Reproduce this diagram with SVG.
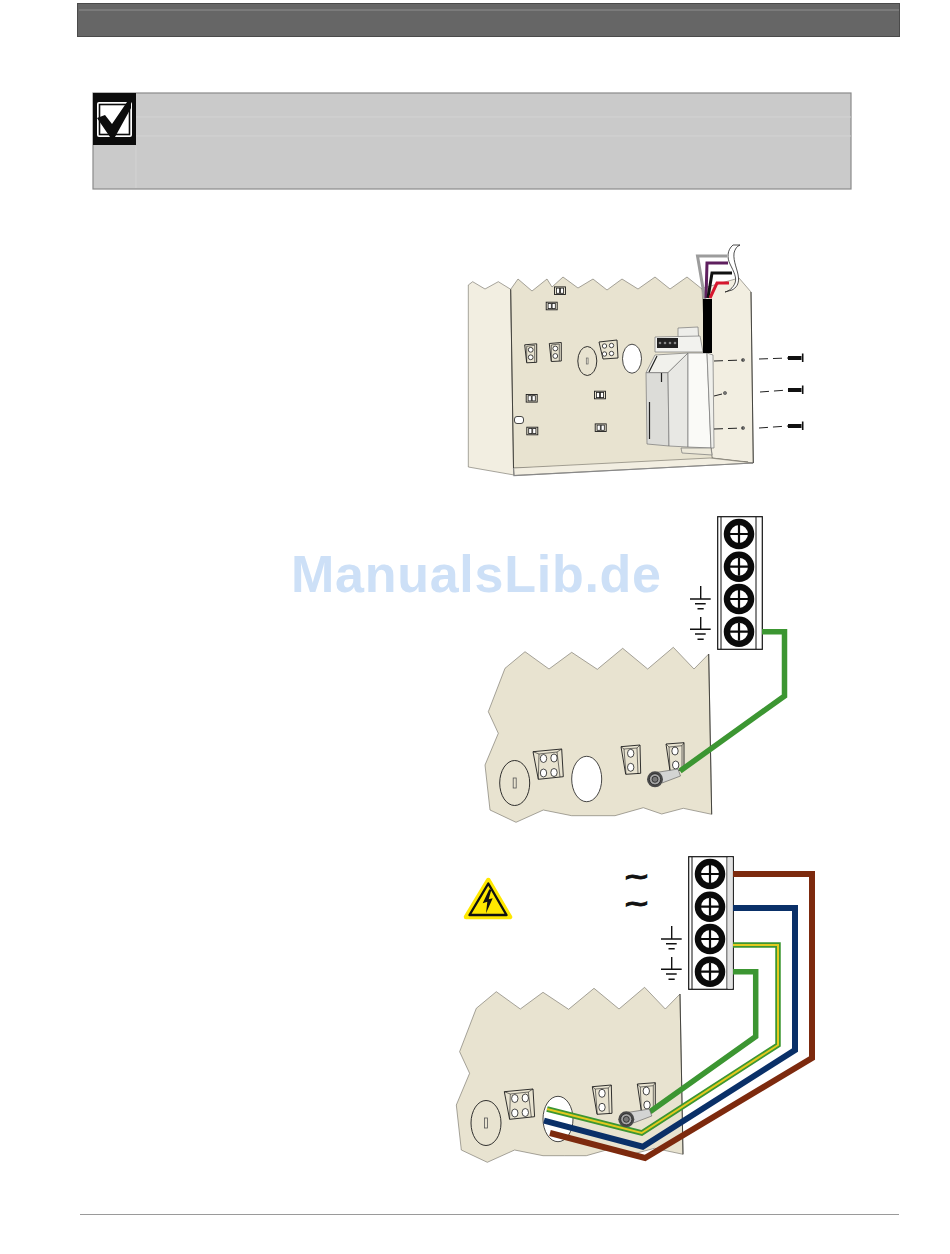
<svg xmlns="http://www.w3.org/2000/svg" width="950" height="1254" viewBox="0 0 950 1254">
<style>
.panel{fill:#e8e3d0;stroke:#6f6c62;stroke-width:.6;stroke-linejoin:round}
.side{fill:#f2eee1;stroke:#6f6c62;stroke-width:.6;stroke-linejoin:round}
.ln{fill:none;stroke:#1c1c1c;stroke-width:.9}
.th{fill:none;stroke:#1c1c1c;stroke-width:.6}
.edge{fill:none;stroke:#3a3a36;stroke-width:.9}
.clip{fill:#e8e3d0;stroke:#1c1c1c;stroke-width:.9}
.hole{fill:#fff;stroke:#1c1c1c;stroke-width:.8}
.w{fill:none;stroke-linejoin:miter}
.dash{fill:none;stroke:#222;stroke-width:1;stroke-dasharray:9 5}
.gnd{fill:none;stroke:#111;stroke-width:1.4}
.green{stroke:#3c9632;stroke-width:5.5}
.blue{stroke:#0a3068;stroke-width:6}
.brown{stroke:#7d2a0e;stroke-width:6}
.yellow{stroke:#e3c91e;stroke-width:2}
.wm{font-family:"Liberation Sans",Arial,sans-serif;font-size:52px;font-weight:700;fill:#cde0f7}
.tilde{font-family:"DejaVu Sans",sans-serif;font-size:23px;font-weight:700;fill:#111;stroke:#111;stroke-width:.9}
</style>
<defs>
<g id="screw">
<circle r="12.1" fill="#fff" stroke="#0a0a0a" stroke-width="6.3"/>
<path d="M-9 0H9M0 -9V9" stroke="#0a0a0a" stroke-width="2.2" fill="none"/>
</g>
<g id="block">
<rect x="717.7" y="516.7" width="44.6" height="132.6" fill="#fff" stroke="#111" stroke-width="1.2"/>
<path d="M721 517V649M756 517V649" stroke="#111" stroke-width="1" fill="none"/>
<use href="#screw" x="739" y="534"/>
<use href="#screw" x="739" y="566.7"/>
<use href="#screw" x="739" y="599"/>
<use href="#screw" x="739" y="631.7"/>
<path class="gnd" d="M700.7 586V599M690 599H710.7M695 603.7H705.7M697.5 608.7H703.7"/>
<path class="gnd" d="M700.7 617V629.3M690 629.3H710.7M695 634H705.7M697.5 639.3H703.7"/>
</g>
<g id="wall">
<polygon class="panel" points="505,668.3 525,651.7 549,669 571.7,652.3 597.3,669.3 622.7,648.3 647.7,669 673.3,647.3 694,669 708.7,654 711.7,814.3 683.3,808.3 661.7,814 643.3,807.7 615,815.7 593,815.7 571.7,815.7 543.3,810 516,822.3 490,810 485,765 498.3,733.3 488.3,711.7"/>
<path class="edge" d="M708.7 654L711.7 814.3"/>
<g class="clip">
<polygon points="533,751.7 561.7,749 563.3,776.7 538.3,779.3"/>
<polygon points="621,746.7 640,745 640.7,773.3 625.7,774.3"/>
<polygon points="666,744 684,742.7 684,770 670,771"/>
</g>
<path class="th" d="M533 751.7L539 754L557 752L561.7 749M539 754L538.3 779.3M557 752L560 777M621 746.7L624 749L637 748L640 745M624 749L626 774M637 748L638 774M666 744L669 747L682 745.7L684 742.7M669 747L670 771M682 745.7V770"/>
<g class="hole">
<ellipse cx="543.5" cy="758.5" rx="3.2" ry="4"/><ellipse cx="554" cy="758" rx="3.2" ry="4"/>
<ellipse cx="543.5" cy="773" rx="3.2" ry="4"/><ellipse cx="554" cy="772.5" rx="3.2" ry="4"/>
<ellipse cx="630.7" cy="753.3" rx="3.2" ry="4"/><ellipse cx="630.7" cy="767.3" rx="3.2" ry="4"/>
<ellipse cx="675" cy="751" rx="3.2" ry="4"/><ellipse cx="675.7" cy="765" rx="3.2" ry="4"/>
<ellipse cx="586.7" cy="779" rx="15" ry="22.7"/>
</g>
<ellipse cx="514.7" cy="783" rx="15" ry="22.5" class="ln"/>
<rect x="513.2" y="778" width="3" height="10" fill="none" stroke="#555" stroke-width=".8"/>
</g>
<g id="lug">
<polygon points="678,769 680.5,776 662,783 653,773" fill="#d3d4d3" stroke="#555" stroke-width=".6"/>
<circle cx="655" cy="779.3" r="8" fill="#4a4a4a"/>
<circle cx="655" cy="779.3" r="5.6" fill="#a5a5a5" stroke="#222" stroke-width=".8"/>
<circle cx="655" cy="779.3" r="3" fill="#777" stroke="#222" stroke-width=".8"/>
</g>
<g id="clipS">
<rect x="-5.5" y="-3.8" width="11" height="7.6" class="clip"/>
<rect x="-3.6" y="-2.6" width="3.2" height="5.2" class="hole"/>
<rect x=".4" y="-2.6" width="3.2" height="5.2" class="hole"/>
</g>
<g id="clipT">
<polygon points="-6,-8.5 6,-9.5 6,9 -4,9.5" class="clip"/>
<path class="th" d="M-4 -7L4 -8V9M-4 -7V9"/>
<circle cx="0" cy="-3.5" r="2.4" class="hole"/>
<circle cx="0" cy="4" r="2.4" class="hole"/>
</g>
<g id="bolt">
<rect x="0" y="-2" width="13.5" height="4" fill="#111"/>
<path d="M14.7 -4.5V4" stroke="#111" stroke-width="1.6"/>
</g>
</defs>

<rect width="950" height="1254" fill="#fff"/>

<g id="header">
<rect x="77.5" y="3.5" width="822" height="33" fill="#666" stroke="#4a4a4a" stroke-width="1"/>
<path d="M79 10H899" stroke="#8f8f8f" stroke-width="1"/>
</g>

<g id="note">
<rect x="93" y="93" width="758" height="96" fill="#cacaca" stroke="#8a8a8a" stroke-width="1.2"/>
<path d="M136 117H851M136 136H851M136 146V188" stroke="#d6d6d6" stroke-width=".8" fill="none"/>
<rect x="93" y="93" width="43" height="52" fill="#0c0c0c"/>
<rect x="97" y="102" width="35" height="35" rx="2" fill="#fff"/>
<rect x="99.5" y="104.5" width="30" height="30" fill="none" stroke="#0c0c0c" stroke-width="1.6"/>
<polygon points="97,118 105,115 112,124 127,102 131,102 131,108 115,137 110,137" fill="#0c0c0c"/>
</g>

<text class="wm" x="291" y="592" textLength="370" lengthAdjust="spacing">ManualsLib.de</text>

<g id="cabinet">
<polygon class="side" points="468.3,285 472.7,281.7 485,289 498.3,281.7 510.7,289.3 514,475 468.3,467"/>
<polygon class="side" points="700,289 739,278 751,292 753.3,463 712,458"/>
<polygon class="panel" points="510.7,289.3 518,279 532,291 547,279 552,287 563,277 578,288 593,279 607,290 622,279 638,289 655,277 670,289 687,277 702,289 712,458 748,462 513.5,468"/>
<polygon class="side" points="513.5,468 710,458 753,463 514,475.5"/>
<path d="M513.5 468L514 475.5L753 463" fill="none" stroke="#888" stroke-width="1.2"/>
<path class="edge" d="M510.7 289.3L513.5 468M751 292L753.3 463"/>
<use href="#clipS" x="560" y="290.7"/>
<use href="#clipS" x="551.7" y="306"/>
<use href="#clipS" x="531.7" y="398.3"/>
<use href="#clipS" x="532.3" y="431"/>
<use href="#clipS" x="600" y="395"/>
<use href="#clipS" x="600.7" y="427.7"/>
<use href="#clipT" x="530.7" y="353.3"/>
<use href="#clipT" x="555.3" y="352"/>
<polygon class="clip" points="599,342 617,340 618,358 603,359"/>
<g class="hole">
<circle cx="604.5" cy="346" r="2.2"/><circle cx="611.5" cy="345.5" r="2.2"/>
<circle cx="604.5" cy="354" r="2.2"/><circle cx="611.5" cy="353.5" r="2.2"/>
<ellipse cx="632" cy="358.7" rx="9.5" ry="14.5"/>
<rect x="514.5" y="416.5" width="9" height="7" rx="2.5"/>
</g>
<ellipse class="ln" cx="587.3" cy="361" rx="9.5" ry="14.5"/>
<rect x="586.3" y="358" width="1.8" height="6" fill="none" stroke="#666" stroke-width=".7"/>
</g>

<g id="module">
<polygon points="678,328 698,327 699,345 678,345" fill="#eeeeea" stroke="#777" stroke-width=".7"/>
<polygon points="655,337 700,336 703,352 655,352" fill="#f2f2ee" stroke="#777" stroke-width=".7"/>
<rect x="657" y="338" width="21" height="10" fill="#222"/>
<g fill="#888"><circle cx="660" cy="343" r="1.3"/><circle cx="665" cy="343" r="1.3"/><circle cx="670" cy="343" r="1.3"/><circle cx="675" cy="343" r="1.3"/></g>
<polygon points="646,372.7 655,355 688,353 668,372.7" fill="#f1f1ec" stroke="#777" stroke-width=".7"/>
<polygon points="646,372.7 668,372.7 669,446 647,444" fill="#dcdcd8" stroke="#777" stroke-width=".7"/>
<polygon points="668,372.7 688,353 688,447 669,446" fill="#e8e8e4" stroke="#777" stroke-width=".7"/>
<polygon points="688,353 707,353 711,448 688,447" fill="#fafaf7" stroke="#777" stroke-width=".7"/>
<polygon points="707,353 713,355 714,448 711,448" fill="#f0f0ec" stroke="#777" stroke-width=".7"/>
<polygon points="681,448 711,448 712,455 682,453" fill="#ece8d9" stroke="#777" stroke-width=".7"/>
<path d="M649 372L657 356M661.5 373V382M649.5 402V439" stroke="#222" stroke-width="1.2" fill="none"/>
</g>

<g id="cable">
<path class="w" d="M705 300L697.5 256H727" stroke="#9c9c9c" stroke-width="3"/>
<path class="w" d="M706 298L707 263H728" stroke="#5e1f5e" stroke-width="3"/>
<path class="w" d="M708 298L712 273H732" stroke="#111" stroke-width="3"/>
<path class="w" d="M710 298L717 283H729" stroke="#d6172f" stroke-width="3"/>
<path d="M733 245C727 250 727 258 730 264C734 272 737 278 735 283C733 288 729 291 725 292L732 290C736 288 739 284 738.5 278C738 270 733 262 734 253C735 249 737 246 740 245Z" fill="#fff" stroke="#222" stroke-width=".8"/>
<rect x="703" y="299" width="9" height="54" fill="#000"/>
</g>

<g id="screws">
<g fill="#777" stroke="#333" stroke-width=".5"><circle cx="743" cy="360" r="1.6"/><circle cx="725" cy="393" r="1.6"/><circle cx="743" cy="428" r="1.6"/></g>
<path class="dash" d="M714 361L743 360M759 359L788 358M714 396L722 394M760 392L788 390M714 429L743 428M759 428L788 426"/>
<use href="#bolt" x="788" y="358"/>
<use href="#bolt" x="788" y="390"/>
<use href="#bolt" x="788" y="426"/>
</g>

<g id="figure-ground">
<use href="#wall"/>
<use href="#block"/>
</g>
<g id="connectors-ground">
<path class="w green" d="M762 631.7H784.5V696L680 771"/>
</g>
<use id="lug-ground" href="#lug"/>

<g id="figure-mains">
<use href="#wall" x="-28.7" y="340"/>
<use href="#block" x="-29" y="340"/>
<rect x="727.5" y="857.5" width="5" height="131" fill="#e2e2e2"/>
</g>
<g id="connectors-mains">
<path class="w green" d="M733 971.7H755.7V1036.5L650 1111.7"/>
<path class="w green" d="M733 945H778V1045L641.7 1133L547 1109"/>
<path class="w yellow" d="M733 945H778V1045L641.7 1133L547 1109"/>
<path class="w blue" d="M733 908H795V1050L642.7 1146.7L544 1120.7"/>
<path class="w brown" d="M733 874H812V1058L645 1158L550 1133"/>
</g>
<use id="lug-mains" href="#lug" x="-28.7" y="340"/>

<g id="warning">
<polygon points="488.3,880 510,917 466,917" fill="#ffe800" stroke="#ffe800" stroke-width="4.5" stroke-linejoin="round"/>
<polygon points="488.3,883.5 506.5,915 469.5,915" fill="none" stroke="#111" stroke-width="2.4" stroke-linejoin="round"/>
<polygon points="489.3,889.3 482.7,903.3 487.3,901.7 486,913.3 492.7,898.3 488.7,899.3 491.3,890" fill="#111"/>
</g>

<text class="tilde" x="623" y="884" textLength="27" lengthAdjust="spacingAndGlyphs">~</text>
<text class="tilde" x="623" y="911" textLength="27" lengthAdjust="spacingAndGlyphs">~</text>

<path id="footer" d="M80 1214.5H899" stroke="#9a9a9a" stroke-width="1"/>
</svg>
